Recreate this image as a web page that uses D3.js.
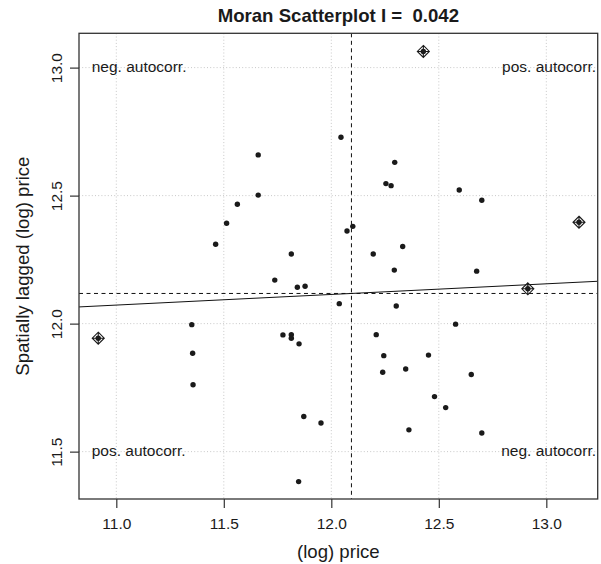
<!DOCTYPE html>
<html>
<head>
<meta charset="utf-8">
<script src="https://cdn.jsdelivr.net/npm/d3@7"></script>
<style>
body{margin:0;background:#fff}
svg text{font-family:"Liberation Sans",Arial,sans-serif;fill:#1a1a1a}
</style>
</head>
<body>
<script>
// (log) price and its spatial lag
var priceX=[12.045,11.660,12.295,12.254,12.278,12.595,11.660,12.700,11.563,11.513,
  12.100,12.073,11.462,12.332,11.814,12.195,12.293,12.676,11.737,11.842,
  11.878,12.037,12.302,11.351,12.578,11.775,11.814,11.814,11.850,12.209,
  11.355,12.244,12.452,12.239,12.346,12.651,11.357,12.480,12.532,11.872,
  11.952,12.361,12.700,11.848]
var laggedY=[12.728,12.659,12.630,12.547,12.539,12.522,12.502,12.482,12.466,12.392,
  12.380,12.362,12.310,12.301,12.272,12.272,12.209,12.205,12.170,12.142,
  12.146,12.078,12.069,11.996,11.998,11.956,11.957,11.943,11.921,11.957,
  11.884,11.875,11.877,11.810,11.823,11.801,11.761,11.715,11.672,11.637,
  11.612,11.585,11.573,11.383]
// influential observations
var inflX=[12.428,13.152,12.914,10.916]
var inflY=[13.063,12.396,12.136,11.943]
var xTicks=[11,11.5,12,12.5,13]
var yTicks=[11.5,12,12.5,13]
var moranI=0.042
var quadLabels=["neg. autocorr.","pos. autocorr.","pos. autocorr.","neg. autocorr."]

var drawChart=function(){
  var W=601,H=564
  var left=79,right=597.7,top=33.3,bottom=499
  var svg=d3.select("body").append("svg").attr("width",W).attr("height",H)

  var x=d3.scaleLinear().domain([10.8265,13.239]).range([left,right])
  var y=d3.scaleLinear().domain([11.315,13.134]).range([bottom,top])

  var allX=priceX.concat(inflX)
  var allY=laggedY.concat(inflY)
  var mx=d3.mean(allX), my=d3.mean(allY)
  var sxy=d3.sum(allX,function(d,i){return (d-mx)*(allY[i]-my)})
  var sxx=d3.sum(allX,function(d){return (d-mx)*(d-mx)})
  var b=sxy/sxx, a=my-b*mx

  svg.append("clipPath").attr("id","clip").append("rect")
    .attr("x",left).attr("y",top).attr("width",right-left).attr("height",bottom-top)

  var grid=svg.append("g").attr("stroke","#c8c8c8").attr("stroke-width",1).attr("stroke-dasharray","1,2.2")
  grid.selectAll(".gx").data(xTicks).enter().append("line")
    .attr("x1",function(d){return x(d)}).attr("x2",function(d){return x(d)})
    .attr("y1",top).attr("y2",bottom)
  grid.selectAll(".gy").data(yTicks).enter().append("line")
    .attr("y1",function(d){return y(d)}).attr("y2",function(d){return y(d)})
    .attr("x1",left).attr("x2",right)

  var plot=svg.append("g").attr("clip-path","url(#clip)")
  plot.append("line").attr("x1",x(mx)).attr("x2",x(mx)).attr("y1",top).attr("y2",bottom)
    .attr("stroke","#111").attr("stroke-dasharray","4,3.5")
  plot.append("line").attr("x1",left).attr("x2",right).attr("y1",y(my)).attr("y2",y(my))
    .attr("stroke","#111").attr("stroke-dasharray","4,3.5")
  var xd=x.domain()
  plot.append("line").attr("x1",x(xd[0])).attr("x2",x(xd[1]))
    .attr("y1",y(a+b*xd[0])).attr("y2",y(a+b*xd[1]))
    .attr("stroke","#111").attr("stroke-width",1)

  plot.selectAll(".pt").data(priceX).enter().append("circle")
    .attr("cx",function(d){return x(d)})
    .attr("cy",function(d,i){return y(laggedY[i])})
    .attr("r",2.7).attr("fill","#1a1a1a")

  var inf=plot.selectAll(".inf").data(inflX).enter().append("g")
    .attr("transform",function(d,i){return "translate("+x(d)+","+y(inflY[i])+")"})
  inf.append("path").attr("d","M0,-6L6,0L0,6L-6,0Z M0,-6L0,6 M-6,0L6,0")
    .attr("fill","none").attr("stroke","#1a1a1a").attr("stroke-width",1.1)
  inf.append("circle").attr("r",2.7).attr("fill","#1a1a1a")

  svg.append("rect").attr("x",left).attr("y",top).attr("width",right-left).attr("height",bottom-top)
    .attr("fill","none").attr("stroke","#333").attr("stroke-width",1.3)

  var xa=svg.append("g").attr("transform","translate(0,"+bottom+")")
    .call(d3.axisBottom(x).tickValues(xTicks).tickFormat(d3.format(".1f")).tickSize(9).tickPadding(10))
  xa.select(".domain").remove()
  xa.selectAll("line").attr("stroke","#333").attr("stroke-width",1.2)
  xa.selectAll("text").style("font-size","15.5px").attr("fill","#1a1a1a")

  var ya=svg.append("g").attr("transform","translate("+left+",0)")
    .call(d3.axisLeft(y).tickValues(yTicks).tickFormat(d3.format(".1f")).tickSize(9))
  ya.select(".domain").remove()
  ya.selectAll("line").attr("stroke","#333").attr("stroke-width",1.2)
  ya.selectAll("text").style("font-size","15.5px").attr("fill","#1a1a1a")
    .attr("x",0).attr("dy",null).attr("text-anchor","middle")
    .attr("transform","translate(-17.3,0) rotate(-90)")

  var cx=(left+right)/2, cy=(top+bottom)/2
  svg.append("text").attr("x",cx).attr("y",21.7).attr("text-anchor","middle")
    .style("font-size","18.6px").style("font-weight","bold").style("white-space","pre")
    .text("Moran Scatterplot I =  "+moranI.toFixed(3))
  svg.append("text").attr("x",cx).attr("y",558).attr("text-anchor","middle")
    .style("font-size","18.6px").text("(log) price")
  svg.append("text").attr("transform","translate(29.3,"+cy+") rotate(-90)").attr("text-anchor","middle")
    .style("font-size","18.6px").text("Spatially lagged (log) price")

  var yHi=y(yTicks[yTicks.length-1])+4, yLo=y(yTicks[0])+4
  var lab=[[left+12.7,yHi,"start"],[right-1.7,yHi,"end"],[left+12.7,yLo,"start"],[right-1.7,yLo,"end"]]
  svg.selectAll(".ql").data(quadLabels).enter().append("text")
    .attr("x",function(d,i){return lab[i][0]})
    .attr("y",function(d,i){return lab[i][1]})
    .attr("text-anchor",function(d,i){return lab[i][2]})
    .style("font-size","15.5px")
    .text(function(d){return d})
}

drawChart()
</script>
</body>
</html>
